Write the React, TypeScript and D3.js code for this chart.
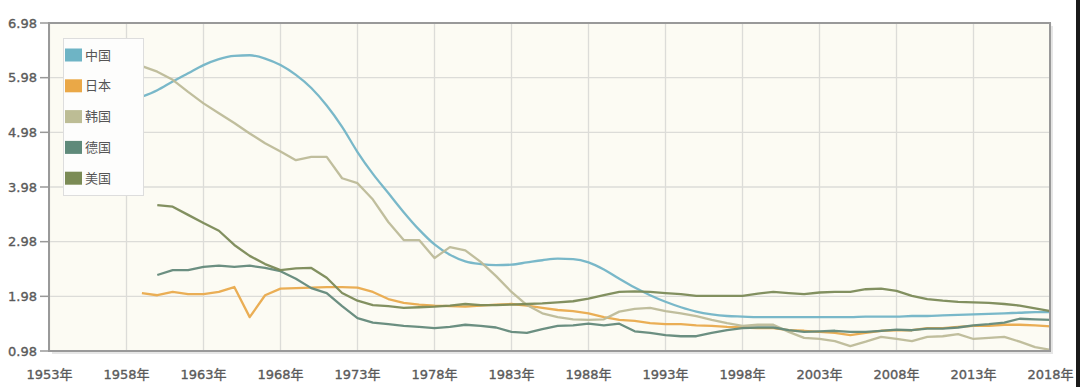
import React, { useEffect, useRef } from "react";
import * as d3 from "d3";

const tickYears = [1953, 1958, 1963, 1968, 1973, 1978, 1983, 1988, 1993, 1998, 2003, 2008, 2013, 2018];
const tickValues = [0.98, 1.98, 2.98, 3.98, 4.98, 5.98, 6.98];

const countries = ["中国", "日本", "韩国", "德国", "美国"];
const colors = ["#72b4c6", "#e9aa4c", "#bdbb98", "#63897a", "#7b8a57"];
const swatchColors = ["#6eb4c5", "#eaa847", "#bdbd95", "#5f8a7a", "#7b8b55"];

// 1959-2018
const china = [5.63, 5.75, 5.91, 6.06, 6.21, 6.32, 6.38, 6.39, 6.33, 6.21, 6.03, 5.79, 5.47, 5.08, 4.62, 4.22, 3.87, 3.52, 3.2, 2.93, 2.74, 2.62, 2.57, 2.55, 2.56, 2.6, 2.64, 2.67, 2.66, 2.6, 2.47, 2.3, 2.14, 2.0, 1.88, 1.78, 1.7, 1.65, 1.62, 1.61, 1.6, 1.6, 1.6, 1.6, 1.6, 1.6, 1.6, 1.61, 1.61, 1.61, 1.62, 1.62, 1.63, 1.64, 1.65, 1.66, 1.67, 1.68, 1.69, 1.69];
// 1959-2018
const japan = [2.04, 2.0, 2.06, 2.02, 2.02, 2.06, 2.15, 1.6, 2.0, 2.12, 2.13, 2.14, 2.15, 2.15, 2.14, 2.06, 1.93, 1.86, 1.83, 1.81, 1.8, 1.79, 1.81, 1.83, 1.84, 1.81, 1.77, 1.73, 1.71, 1.67, 1.6, 1.55, 1.53, 1.49, 1.47, 1.47, 1.45, 1.44, 1.42, 1.41, 1.4, 1.4, 1.36, 1.35, 1.33, 1.31, 1.27, 1.31, 1.35, 1.36, 1.36, 1.4, 1.4, 1.42, 1.44, 1.44, 1.46, 1.46, 1.45, 1.43];
// 1959-2018
const korea = [6.19, 6.09, 5.94, 5.72, 5.51, 5.33, 5.15, 4.96, 4.78, 4.63, 4.47, 4.53, 4.53, 4.14, 4.05, 3.75, 3.34, 3.01, 3.01, 2.68, 2.88, 2.82, 2.61, 2.35, 2.06, 1.82, 1.67, 1.6, 1.56, 1.55, 1.56, 1.7, 1.75, 1.77, 1.71, 1.67, 1.62, 1.55, 1.49, 1.44, 1.46, 1.46, 1.33, 1.22, 1.2, 1.16, 1.07, 1.15, 1.24, 1.2, 1.16, 1.24, 1.25, 1.29, 1.2, 1.22, 1.24, 1.15, 1.05, 1.0];
// 1960-2018
const germany = [2.37, 2.46, 2.46, 2.52, 2.54, 2.52, 2.54, 2.5, 2.44, 2.3, 2.13, 2.04, 1.8, 1.58, 1.5, 1.47, 1.44, 1.42, 1.4, 1.42, 1.46, 1.44, 1.41, 1.33, 1.31, 1.38, 1.44, 1.45, 1.48, 1.45, 1.48, 1.34, 1.31, 1.27, 1.25, 1.25, 1.31, 1.36, 1.4, 1.41, 1.41, 1.36, 1.33, 1.34, 1.35, 1.33, 1.33, 1.35, 1.37, 1.36, 1.39, 1.39, 1.41, 1.45, 1.47, 1.5, 1.57, 1.56, 1.55];
// 1960-2018
const usa = [3.65, 3.62, 3.47, 3.32, 3.18, 2.92, 2.72, 2.57, 2.46, 2.49, 2.5, 2.32, 2.04, 1.9, 1.82, 1.8, 1.77, 1.78, 1.79, 1.81, 1.84, 1.82, 1.82, 1.83, 1.84, 1.85, 1.87, 1.89, 1.94, 2.0, 2.06, 2.07, 2.06, 2.04, 2.02, 1.99, 1.99, 1.99, 1.99, 2.03, 2.06, 2.04, 2.02, 2.05, 2.06, 2.06, 2.11, 2.12, 2.08, 1.99, 1.93, 1.9, 1.88, 1.87, 1.86, 1.84, 1.81, 1.76, 1.71];

const seriesValues = [china, japan, korea, germany, usa];
const startYears = [1959, 1959, 1959, 1960, 1960];

export default function App() {
  const ref = useRef<SVGSVGElement>(null);

  useEffect(() => {
    const svg = d3.select(ref.current);
    svg.selectAll("*").remove();

    const left = 49, right = 1050, top = 23, bottom = 351;
    const x = d3.scaleLinear().domain([1953, 2018]).range([left + 0.5, right + 0.5]);
    const y = d3.scaleLinear().domain([0.98, 6.98]).range([bottom, top]);

    svg.append("rect").attr("width", 1080).attr("height", 387).attr("fill", "#ffffff");

    // plot background + shadow
    svg.append("rect")
      .attr("x", left + 3).attr("y", top + 3)
      .attr("width", right - left).attr("height", bottom - top)
      .attr("fill", "#e6e6e6");
    svg.append("rect")
      .attr("x", left).attr("y", top)
      .attr("width", right - left).attr("height", bottom - top)
      .attr("fill", "#fcfbf3");

    // grid
    const grid = svg.append("g").attr("stroke", "#dcdcd8").attr("stroke-width", 1.3);
    tickYears.forEach(t => {
      grid.append("line").attr("x1", x(t)).attr("x2", x(t)).attr("y1", top).attr("y2", bottom);
    });
    tickValues.forEach(t => {
      grid.append("line").attr("x1", left).attr("x2", right).attr("y1", y(t)).attr("y2", y(t));
    });

    // lines (China's series is smooth, the others keep their kinks)
    seriesValues.forEach((vals, i) => {
      const pts = vals.map((v, k) => [x(startYears[i] + k), y(v)] as [number, number]);
      const line = d3.line<[number, number]>().curve(i === 0 ? d3.curveMonotoneX : d3.curveLinear);
      svg.append("path")
        .attr("d", line(pts) as string)
        .attr("fill", "none")
        .attr("stroke", colors[i])
        .attr("stroke-width", 2.3)
        .attr("stroke-opacity", 0.95)
        .attr("stroke-linejoin", "round");
    });

    // border
    svg.append("rect")
      .attr("x", left).attr("y", top)
      .attr("width", right - left).attr("height", bottom - top)
      .attr("fill", "none").attr("stroke", "#999999").attr("stroke-width", 2);

    // axis labels
    const ax = svg.append("g").attr("font-family", "'DejaVu Sans', Verdana, sans-serif")
      .attr("font-size", 13).attr("fill", "#5a5a5a")
      .attr("stroke", "#5a5a5a").attr("stroke-width", 0.35);
    tickValues.forEach(t => {
      ax.append("text").attr("x", 37).attr("y", y(t)).attr("dy", "0.35em")
        .attr("text-anchor", "end").text(t.toFixed(2));
      ax.append("line").attr("x1", 40).attr("x2", left).attr("y1", y(t)).attr("y2", y(t))
        .attr("stroke", "#999999").attr("stroke-width", 1.5);
    });
    tickYears.forEach(t => {
      ax.append("text").attr("x", x(t)).attr("y", 378.5)
        .attr("text-anchor", "middle")
        .attr("font-family", "'DejaVu Sans', 'Noto Sans CJK SC', sans-serif")
        .text(`${t}年`);
    });

    // legend
    const lg = svg.append("g");
    lg.append("rect").attr("x", 63.5).attr("y", 38.5).attr("width", 80).attr("height", 157)
      .attr("fill", "#fdfdfc").attr("stroke", "#dddddd");
    countries.forEach((c, i) => {
      const cy = 55 + i * 30.8;
      lg.append("rect").attr("x", 65).attr("y", cy - 6.5).attr("width", 17).attr("height", 13)
        .attr("fill", swatchColors[i]);
      lg.append("text").attr("x", 85).attr("y", cy).attr("dy", "0.36em")
        .attr("font-family", "'Noto Sans CJK SC', sans-serif")
        .attr("font-size", 13).attr("fill", "#555555").text(c);
    });

    // dark right edge
    svg.append("rect").attr("x", 1076).attr("y", 0).attr("width", 4).attr("height", 387).attr("fill", "#1a1a1a");
  }, []);

  return <svg ref={ref} width={1080} height={387} style={{ position: "absolute", left: 0, top: 0 }} />;
}
